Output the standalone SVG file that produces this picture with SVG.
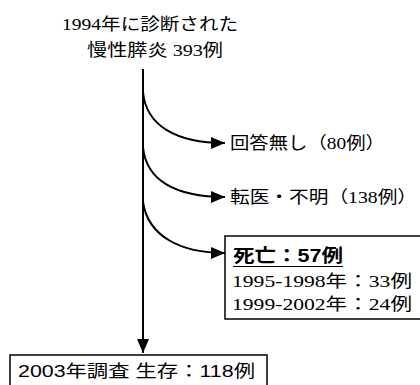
<svg xmlns="http://www.w3.org/2000/svg" width="420" height="385" viewBox="0 0 420 385">
<style>
.serif{font-family:"Liberation Serif","Noto Sans CJK JP",serif;font-size:17px;fill:#000}
.sans{font-family:"Liberation Sans","Noto Sans CJK JP",sans-serif;fill:#000}
.ln{fill:none;stroke:#000;stroke-width:2}
.box{fill:#fff;stroke:#000;stroke-width:1.5}
</style>
<defs>
<marker id="ah" markerWidth="14" markerHeight="12" refX="14" refY="6" orient="auto" markerUnits="userSpaceOnUse">
<path d="M0,0 L14,6 L0,12 Z" fill="#000"/>
</marker>
</defs>
<rect width="420" height="385" fill="#fff"/>
<g id="start">
<text class="serif" x="62" y="30" textLength="176" lengthAdjust="spacingAndGlyphs">1994年に診断された</text>
<text class="serif" x="87" y="56" textLength="136" lengthAdjust="spacingAndGlyphs">慢性膵炎 393例</text>
</g>
<g id="connectors">
<path class="ln" d="M143,69 V353" marker-end="url(#ah)"/>
<path class="ln" d="M143,92 C146,125 175,143 225,143" marker-end="url(#ah)"/>
<path class="ln" d="M143,147 C146,180 175,197 225,197" marker-end="url(#ah)"/>
<path class="ln" d="M143,202 C148,236 180,253 225,253" marker-end="url(#ah)"/>
</g>
<g id="noanswer">
<text class="serif" x="230" y="149" textLength="155" lengthAdjust="spacingAndGlyphs">回答無し（80例）</text>
</g>
<g id="transfer">
<text class="serif" x="230" y="203" textLength="187" lengthAdjust="spacingAndGlyphs">転医・不明（138例）</text>
</g>
<g id="death">
<rect class="box" x="225" y="236" width="205" height="83"/>
<text class="sans" x="233" y="262" font-size="18" font-weight="bold" textLength="110" lengthAdjust="spacingAndGlyphs">死亡：57例</text>
<line x1="233" y1="266.5" x2="343" y2="266.5" stroke="#000" stroke-width="1.2"/>
<text class="serif" x="232" y="287" textLength="180" lengthAdjust="spacingAndGlyphs">1995-1998年：33例</text>
<text class="serif" x="232" y="310" textLength="180" lengthAdjust="spacingAndGlyphs">1999-2002年：24例</text>
</g>
<g id="survive">
<rect class="box" x="10" y="355" width="257" height="40"/>
<text class="sans" x="18" y="377" font-size="17" textLength="237" lengthAdjust="spacingAndGlyphs">2003年調査 生存：118例</text>
</g>
</svg>
